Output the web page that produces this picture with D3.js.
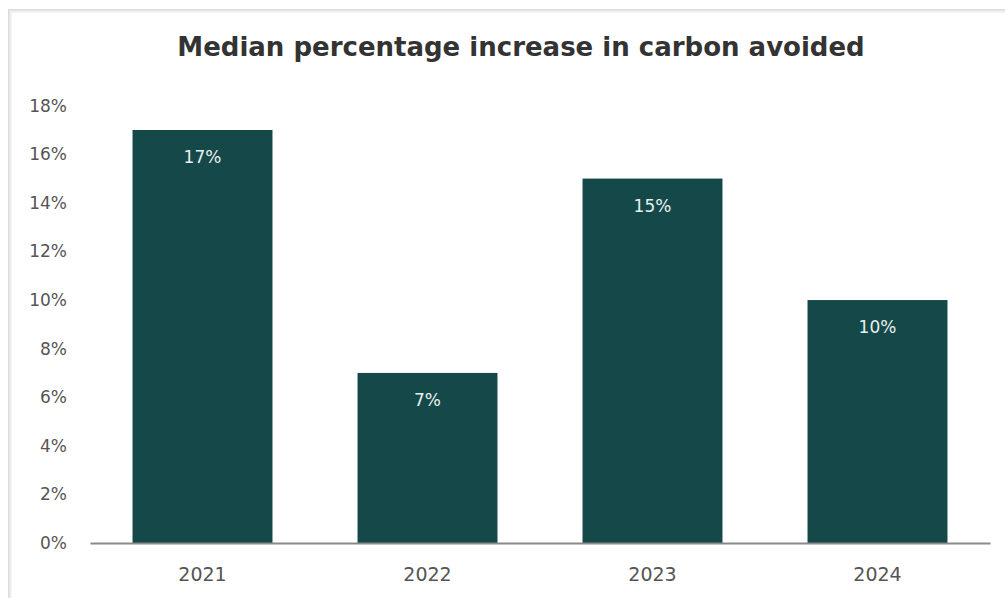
<!DOCTYPE html>
<html>
<head>
<meta charset="utf-8">
<script src="https://cdn.jsdelivr.net/npm/d3@7"></script>
<style>
  html, body { margin: 0; padding: 0; background: #fff; }
  svg { display: block; font-family: "DejaVu Sans", "Liberation Sans", Arial, sans-serif; }
</style>
</head>
<body>
<div id="chart"></div>
<script>
  const years = ["2021", "2022", "2023", "2024"];
  const values = [17, 7, 15, 10];
  const yTicks = [0, 2, 4, 6, 8, 10, 12, 14, 16, 18];
  const title = "Median percentage increase in carbon avoided";

  const width = 1005;
  const height = 598;
  const plot = { left: 90, right: 990, top: 105.7, bottom: 543 };

  const svg = d3.select("#chart")
    .append("svg")
    .attr("width", width)
    .attr("height", height);

  // card edge (top and left shadow)
  const edge = svg.append("g").attr("class", "card-edge");
  [["#dcdcdc", 0], ["#e6e6e6", 1], ["#eeeeee", 2], ["#f5f5f5", 3]].forEach(([c, i]) => {
    edge.append("rect").attr("x", 8 + i).attr("y", 9 + i).attr("width", width).attr("height", 1).attr("fill", c);
    edge.append("rect").attr("x", 8 + i).attr("y", 9 + i).attr("width", 1).attr("height", height).attr("fill", c);
  });

  const x = d3.scaleBand()
    .domain(years)
    .range([plot.left, plot.right])
    .paddingInner(0.378)
    .paddingOuter(0.189);

  const y = d3.scaleLinear()
    .domain([0, 18])
    .range([plot.bottom, plot.top]);

  // title, sized to the reference width
  const titleText = svg.append("text")
    .attr("x", 521)
    .attr("y", 56)
    .attr("text-anchor", "middle")
    .attr("font-size", 24)
    .attr("font-weight", "bold")
    .attr("fill", "#333")
    .text(title);
  const tw = titleText.node().getComputedTextLength();
  titleText.attr("font-size", Math.min(26, 24 * 690 / tw));

  // y axis labels
  const yAxis = d3.axisLeft(y)
    .tickValues(yTicks)
    .tickFormat(d => d + "%")
    .tickSize(0)
    .tickPadding(0);

  svg.append("g")
    .attr("transform", "translate(67,0)")
    .call(yAxis)
    .call(g => g.select(".domain").remove())
    .call(g => g.selectAll("text")
      .attr("font-size", 17)
      .attr("fill", "#555")
      .attr("font-family", "DejaVu Sans, sans-serif"));

  // bars
  svg.append("g")
    .selectAll("rect")
    .data(values)
    .join("rect")
    .attr("x", (d, i) => x(years[i]))
    .attr("y", d => y(d))
    .attr("width", x.bandwidth())
    .attr("height", d => y(0) - y(d))
    .attr("fill", "#154949");

  // value labels
  svg.append("g")
    .selectAll("text")
    .data(values)
    .join("text")
    .attr("x", (d, i) => x(years[i]) + x.bandwidth() / 2)
    .attr("y", d => y(d) + 33)
    .attr("text-anchor", "middle")
    .attr("font-size", 17)
    .attr("fill", "#e8f0ee")
    .text(d => d + "%");

  // x axis
  const xAxis = d3.axisBottom(x).tickSize(0).tickPadding(25);
  svg.append("g")
    .attr("transform", `translate(0,${plot.bottom})`)
    .call(xAxis)
    .call(g => g.select(".domain").attr("stroke", "#8a8a8a").attr("stroke-width", 2))
    .call(g => g.selectAll("text")
      .attr("font-size", 19)
      .attr("fill", "#555")
      .attr("font-family", "DejaVu Sans, sans-serif"));
</script>
</body>
</html>
